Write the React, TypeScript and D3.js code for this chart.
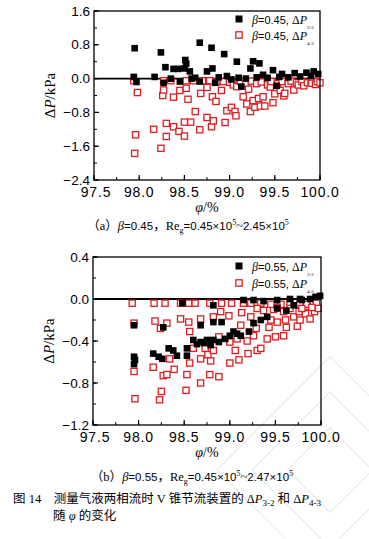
import React from "react";
import * as d3 from "d3";

// ---------- data ----------
const xTicksMajor = [97.5, 98.0, 98.5, 99.0, 99.5, 100.0];
const topYTicks = [1.6, 0.8, 0.0, -0.8, -1.6, -2.4];
const bottomYTicks = [0.4, 0.0, -0.4, -0.8, -1.2];

// (a) beta = 0.45, ΔP3-2  [phi %, ΔP kPa]
const topBlack: [number, number][] = [
  [97.95, 0.72], [97.94, 0.04], [97.97, -0.08], [98.17, 0.04], [98.24, 0.62], [98.27, -0.1],
  [98.29, 0.27], [98.35, 0.0], [98.38, 0.23], [98.43, 0.23], [98.45, -0.07], [98.5, 0.24],
  [98.51, 0.44], [98.52, 0.35], [98.56, 0.17], [98.58, 0.0], [98.62, 0.02], [98.67, 0.85],
  [98.67, -0.07], [98.75, 0.17], [98.8, 0.73], [98.81, 0.24], [98.84, -0.1], [98.88, 0.03],
  [98.94, 0.58], [98.97, 0.06], [99.02, -0.02], [99.08, 0.4], [99.1, 0.02], [99.13, -0.19],
  [99.18, 0.0], [99.23, 0.24], [99.26, 0.41], [99.3, 0.03], [99.33, 0.36], [99.37, 0.09],
  [99.42, 0.02], [99.48, 0.2], [99.52, -0.17], [99.55, 0.04], [99.58, 0.11], [99.65, 0.03],
  [99.72, 0.13], [99.78, 0.05], [99.85, 0.14], [99.9, 0.06], [99.93, 0.17], [99.98, 0.11],
];

// (a) beta = 0.45, ΔP4-3
const topRed: [number, number][] = [
  [97.94, -0.05], [97.98, -0.33], [97.96, -1.33], [97.95, -1.77], [98.16, -1.2], [98.24, -1.65],
  [98.26, -0.4], [98.27, -0.27], [98.27, -0.05], [98.3, -1.06], [98.3, -1.37], [98.35, -0.05],
  [98.38, -0.44], [98.38, -1.14], [98.44, -1.25], [98.45, -0.28], [98.5, -1.36], [98.5, -1.03],
  [98.52, -0.23], [98.52, -0.05], [98.54, -0.49], [98.57, -1.03], [98.6, -0.05], [98.62, -0.78],
  [98.67, -1.21], [98.68, -0.35], [98.7, -0.05], [98.75, -0.21], [98.75, -0.92], [98.78, -0.05],
  [98.8, -1.14], [98.81, -0.43], [98.82, -1.0], [98.85, -0.54], [98.86, -0.08], [98.91, -0.28],
  [98.93, -0.07], [98.95, -1.04], [98.97, -0.76], [99.0, -0.09], [99.02, -0.68], [99.04, -0.15],
  [99.06, -0.78], [99.07, -0.88], [99.08, -0.19], [99.12, -0.07], [99.15, -0.43], [99.18, -0.12],
  [99.19, -0.6], [99.21, -0.25], [99.23, -0.78], [99.24, -0.06], [99.26, -0.52], [99.28, -0.68],
  [99.3, -0.12], [99.32, -0.47], [99.34, -0.65], [99.35, -0.08], [99.37, -0.43], [99.39, -0.65],
  [99.42, -0.15], [99.45, -0.2], [99.46, -0.07], [99.48, -0.57], [99.5, -0.36], [99.53, -0.12],
  [99.56, -0.28], [99.58, -0.07], [99.6, -0.41], [99.61, -0.35], [99.65, -0.12], [99.68, -0.06],
  [99.71, -0.27], [99.74, -0.1], [99.76, -0.15], [99.8, -0.07], [99.82, -0.17], [99.86, -0.1],
  [99.9, -0.06], [99.91, -0.11], [99.95, -0.14], [99.97, -0.07], [100.0, -0.1],
];

// (b) beta = 0.55, ΔP3-2
const bottomBlack: [number, number][] = [
  [97.95, -0.25], [97.95, -0.55], [97.95, -0.62], [97.96, -0.58], [98.16, -0.52], [98.22, -0.55],
  [98.26, -0.57], [98.27, -0.27], [98.33, -0.47], [98.38, -0.49], [98.42, -0.54], [98.48, -0.04],
  [98.53, -0.54], [98.53, -0.47], [98.6, -0.39], [98.68, -0.41], [98.68, -0.25], [98.75, -0.39],
  [98.82, -0.39], [98.82, -0.22], [98.82, -0.06], [98.88, -0.41], [98.91, -0.22], [98.95, -0.38],
  [99.04, -0.31], [99.12, -0.35], [99.15, -0.01], [99.21, -0.31], [99.26, -0.23], [99.26, -0.01],
  [99.34, -0.2], [99.37, -0.02], [99.41, -0.17], [99.52, -0.09], [99.52, -0.01], [99.62, -0.11],
  [99.66, 0.0], [99.7, -0.06], [99.77, 0.0], [99.79, -0.01], [99.88, 0.0], [99.94, 0.02], [99.99, 0.03],
  [98.64, -0.43], [98.72, -0.42], [98.79, -0.44], [99.0, -0.35], [99.08, -0.33],
];

// (b) beta = 0.55, ΔP4-3
const bottomRed: [number, number][] = [
  [97.93, -0.04], [97.95, -0.23], [97.95, -0.69], [97.96, -0.95], [98.17, -0.04], [98.18, -0.21],
  [98.16, -0.65], [98.24, -0.28], [98.31, -0.23], [98.29, -0.04], [98.23, -0.96], [98.25, -0.88],
  [98.27, -0.73], [98.31, -0.72], [98.34, -0.57], [98.39, -0.67], [98.46, -0.04], [98.46, -0.19],
  [98.55, -0.04], [98.56, -0.31], [98.55, -0.22], [98.56, -0.61], [98.53, -0.72], [98.52, -0.87],
  [98.6, -0.47], [98.62, -0.04], [98.68, -0.57], [98.68, -0.8], [98.68, -0.19], [98.73, -0.47],
  [98.76, -0.53], [98.78, -0.04], [98.79, -0.59], [98.78, -0.72], [98.82, -0.17], [98.82, -0.49],
  [98.88, -0.74], [98.88, -0.36], [98.9, -0.12], [98.91, -0.04], [98.99, -0.16], [99.0, -0.41],
  [99.0, -0.61], [99.02, -0.04], [99.06, -0.49], [99.08, -0.38], [99.1, -0.58], [99.12, -0.25],
  [99.13, -0.13], [99.15, -0.04], [99.19, -0.4], [99.2, -0.52], [99.23, -0.17], [99.26, -0.35],
  [99.29, -0.28], [99.3, -0.49], [99.34, -0.47], [99.41, -0.38], [99.43, -0.27], [99.45, -0.2],
  [99.48, -0.1], [99.5, -0.36], [99.52, -0.22], [99.59, -0.12], [99.59, -0.35], [99.61, -0.2],
  [99.62, -0.27], [99.7, -0.17], [99.74, -0.26], [99.76, -0.12], [99.77, -0.2], [99.83, -0.14],
  [99.85, -0.07], [99.88, -0.19], [99.93, -0.12], [99.95, -0.04], [99.97, -0.09],
  [99.23, -0.04], [99.34, -0.04], [99.45, -0.05], [99.56, -0.05], [99.66, -0.04], [99.77, -0.05],
  [99.84, -0.05], [99.3, -0.09], [99.37, -0.11], [99.52, -0.08], [99.66, -0.09], [99.79, -0.09], [99.9, -0.08],
];

const RED = "#e01c20";
const SANS = "'Liberation Sans', Arial, sans-serif";
const SERIF = "'Liberation Serif', 'Times New Roman', serif";
const CJK = "'Liberation Serif', 'Noto Sans CJK SC', serif";

type PanelProps = {
  left: number; right: number; top: number; bottom: number;
  yDomain: [number, number]; yTicks: number[]; yMinorStep: number;
  black: [number, number][]; red: [number, number][];
  beta: string; legendY: [number, number]; sub: [string, string];
};

function Panel(p: PanelProps) {
  const x = d3.scaleLinear().domain([97.5, 100]).range([p.left, p.right]);
  const y = d3.scaleLinear().domain(p.yDomain).range([p.bottom, p.top]);
  const yMinor = d3.range(p.yDomain[0], p.yDomain[1] + 1e-9, p.yMinorStep);
  const xMinor = d3.range(97.5, 100.0001, 0.25);
  const sb = 6.6;
  const sr = 6.2;
  return (
    <g>
      {/* zero line */}
      <line x1={p.left} x2={p.right} y1={y(0)} y2={y(0)} stroke="#000" strokeWidth={1.8} />
      {/* red open squares */}
      {p.red.map((d, i) => (
        <rect key={"r" + i} x={x(d[0]) - sr / 2} y={y(d[1]) - sr / 2} width={sr} height={sr}
          fill="#fff" stroke={RED} strokeWidth={1.3} />
      ))}
      {/* black squares */}
      {p.black.map((d, i) => (
        <rect key={"b" + i} x={x(d[0]) - sb / 2} y={y(d[1]) - sb / 2} width={sb} height={sb} fill="#000" />
      ))}
      {/* frame */}
      <rect x={p.left} y={p.top} width={p.right - p.left} height={p.bottom - p.top}
        fill="none" stroke="#000" strokeWidth={1.3} />
      {/* y ticks */}
      {yMinor.map((v, i) => (
        <line key={"ym" + i} x1={p.left} x2={p.left + 3} y1={y(v)} y2={y(v)} stroke="#000" strokeWidth={1} />
      ))}
      {p.yTicks.map((v, i) => (
        <g key={"yt" + i}>
          <line x1={p.left} x2={p.left + 5} y1={y(v)} y2={y(v)} stroke="#000" strokeWidth={1.2} />
          <text x={p.left - 4} y={y(v) + 4.5} textAnchor="end" fontFamily={SANS} fontSize={13.5}>
            {d3.format(".1f")(v)}
          </text>
        </g>
      ))}
      {/* x ticks */}
      {xMinor.map((v, i) => (
        <line key={"xm" + i} x1={x(v)} x2={x(v)} y1={p.bottom} y2={p.bottom - 3} stroke="#000" strokeWidth={1} />
      ))}
      {xTicksMajor.map((v, i) => (
        <g key={"xt" + i}>
          <line x1={x(v)} x2={x(v)} y1={p.bottom} y2={p.bottom - 5} stroke="#000" strokeWidth={1.2} />
          <text x={x(v) + (i === 0 ? 2 : 0)} y={p.bottom + 17} textAnchor="middle" fontFamily={SANS} fontSize={14} letterSpacing={0.8}>
            {d3.format(".1f")(v)}
          </text>
        </g>
      ))}
      {/* axis titles */}
      <text transform={`translate(${p.left - 39},${(p.top + p.bottom) / 2}) rotate(-90)`}
        textAnchor="middle" fontFamily={SERIF} fontSize={15}>
        Δ<tspan fontStyle="italic">P</tspan>/kPa
      </text>
      <text x={(p.left + p.right) / 2} y={p.bottom + 32} textAnchor="middle" fontFamily={SERIF} fontSize={14}>
        <tspan fontStyle="italic">φ</tspan>/%
      </text>
      {/* legend */}
      <rect x={239 - 3.5} y={p.legendY[0] - 3.5} width={7} height={7} fill="#000" />
      <rect x={239 - 3.2} y={p.legendY[1] - 3.2} width={6.4} height={6.4} fill="#fff" stroke={RED} strokeWidth={1.3} />
      {[0, 1].map((k) => (
        <text key={"lg" + k} x={252} y={p.legendY[k] + 4.5} fontSize={12} fontFamily={SERIF}>
          <tspan fontStyle="italic">β</tspan>
          <tspan fontFamily={SANS} fontSize={11}>={p.beta}, </tspan>
          <tspan>Δ</tspan><tspan fontStyle="italic">P</tspan>
          <tspan fontSize={5} dy={5}>{p.sub[k]}</tspan>
        </text>
      ))}
    </g>
  );
}

export default function App() {
  return (
    <svg width={369} height={539} style={{ position: "absolute", left: 0, top: 0, background: "#fff" }}
      xmlns="http://www.w3.org/2000/svg">
      <rect width={369} height={539} fill="#fff" />
      {/* faint watermark */}
      <g fill="none" stroke="#e4f0e7" strokeWidth={1.2}>
        {[30, 55, 80].map((r, i) => (
          <rect key={i} x={330 - r} y={470 - r} width={r * 2} height={r * 2} transform="rotate(45 330 470)" />
        ))}
      </g>
      <Panel left={94} right={320} top={11} bottom={180} yDomain={[-2.4, 1.6]} yTicks={topYTicks} yMinorStep={0.4}
        black={topBlack} red={topRed} beta="0.45" legendY={[19, 35]} sub={["3-2", "4-3"]} />
      <text x={188} y={230} textAnchor="middle" fontFamily={CJK} fontSize={12.5}>
        （a）<tspan fontStyle="italic">β</tspan><tspan fontFamily={SANS} fontSize={11.5}>=0.45</tspan>，Re
        <tspan fontSize={8} dy={3}>g</tspan><tspan dy={-3} fontFamily={SANS} fontSize={11.5}>=0.45×10</tspan>
        <tspan fontSize={8} dy={-5}>5</tspan><tspan dy={5}>~</tspan>
        <tspan fontFamily={SANS} fontSize={11.5}>2.45×10</tspan><tspan fontSize={8} dy={-5}>5</tspan>
      </text>
      <Panel left={93} right={321} top={257} bottom={425} yDomain={[-1.2, 0.4]} yTicks={bottomYTicks} yMinorStep={0.2}
        black={bottomBlack} red={bottomRed} beta="0.55" legendY={[266, 283]} sub={["3-2", "4-3"]} />
      <text x={192} y={481} textAnchor="middle" fontFamily={CJK} fontSize={12.5}>
        （b）<tspan fontStyle="italic">β</tspan><tspan fontFamily={SANS} fontSize={11.5}>=0.55</tspan>，Re
        <tspan fontSize={8} dy={3}>g</tspan><tspan dy={-3} fontFamily={SANS} fontSize={11.5}>=0.45×10</tspan>
        <tspan fontSize={8} dy={-5}>5</tspan><tspan dy={5}>~</tspan>
        <tspan fontFamily={SANS} fontSize={11.5}>2.47×10</tspan><tspan fontSize={8} dy={-5}>5</tspan>
      </text>
      <text x={13} y={503} fontFamily={CJK} fontSize={12.5}>
        图 14　测量气液两相流时 V 锥节流装置的 Δ<tspan fontStyle="italic">P</tspan>
        <tspan fontSize={9} dy={3}>3-2</tspan><tspan dy={-3}> 和 Δ</tspan><tspan fontStyle="italic">P</tspan>
        <tspan fontSize={9} dy={3}>4-3</tspan>
      </text>
      <text x={53} y={520} fontFamily={CJK} fontSize={12.5}>
        随 <tspan fontStyle="italic">φ</tspan> 的变化
      </text>
    </svg>
  );
}
